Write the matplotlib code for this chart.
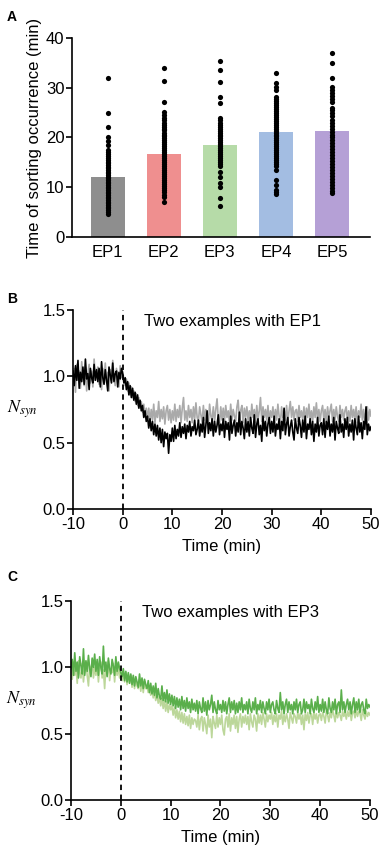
import numpy as np
import matplotlib
matplotlib.use("Agg")
import matplotlib.pyplot as plt

plt.rcParams['font.family'] = ['Liberation Sans', 'DejaVu Sans']
plt.rcParams['mathtext.fontset'] = 'stix'
plt.rcParams['axes.unicode_minus'] = False

# ---- panel A data ----
groups = ['EP1', 'EP2', 'EP3', 'EP4', 'EP5']
bar_means = [12.0, 16.6, 18.4, 21.2, 21.4]
bar_colors = ['#8e8e8e', '#ef8f8f', '#b6dba8', '#a3bde2', '#b5a0d6']

ep1_times = [32, 25, 22.2, 20, 19.3, 18.4, 17.5, 17, 16.6, 16.2, 15.8, 15.4, 15.1, 14.8,
             14.5, 14.1, 13.8, 13.5, 13.1, 12.8, 12.5, 12.1, 11.8, 11.5, 11.1, 10.8, 10.5,
             10.1, 9.8, 9.5, 9.1, 8.8, 8.5, 8.1, 7.8, 7.5, 7.1, 6.8, 6.5, 6.1, 5.8, 5.5,
             5.1, 4.6]
ep2_times = [34, 31.3, 27.1, 25.2, 24.5, 24, 23.5, 23, 22.5, 22.2, 21.8, 21.5, 21, 20.6,
             20.2, 19.8, 19.5, 19, 18.6, 18.2, 17.8, 17.5, 17, 16.6, 16.2, 15.8, 15.4,
             15, 14.6, 14.2, 13.8, 13.4, 13, 12.6, 12.2, 11.8, 11.4, 11, 10.6, 10.2, 9.8,
             9.4, 9, 8.5, 8, 7.1]
ep3_times = [35.3, 33.6, 31.1, 28.2, 26.9, 23.9, 23.5, 23, 22.6, 22.2, 21.8, 21.4, 21,
             20.6, 20.2, 19.8, 19.4, 19, 18.6, 18.2, 17.8, 17.4, 17, 16.6, 16.2, 15.8,
             15.4, 15, 14.6, 14.2, 13.1, 12.1, 10.8, 10.1, 7.8, 6.3]
ep4_times = [33, 30.9, 30.2, 29.6, 28.2, 27.8, 27.4, 27, 26.6, 26.2, 25.8, 25.4, 25, 24.6,
             24.2, 23.8, 23.4, 23, 22.6, 22.2, 21.8, 21.4, 21, 20.6, 20.2, 19.8, 19.4,
             19, 18.6, 18.2, 17.8, 17.4, 17, 16.6, 16.2, 15.8, 15.4, 15, 14.6, 14.2,
             13.5, 11.5, 10.5, 9.5, 9.1, 8.7]
ep5_times = [36.9, 34.9, 31.9, 30.2, 29.6, 29, 28.4, 27.8, 27.2, 26, 25.5, 25, 24.3, 23.6,
             23, 22.4, 21.8, 21.2, 20.6, 20, 19.4, 18.8, 18.2, 17.6, 17, 16.4, 15.8,
             15.2, 14.6, 14, 13.4, 12.8, 12.2, 11.6, 11, 10.5, 9.8, 9.3, 8.8]
group_times = [ep1_times, ep2_times, ep3_times, ep4_times, ep5_times]

# ---- panel B / C traces (values x100, 0.25 min step from -10 to 50) ----
time_min = np.arange(241) * 0.25 - 10

b_gray = [95, 106, 88, 109, 97, 104, 91, 111, 100, 93, 107, 89, 102, 109, 95, 104, 92, 113, 97, 103,
          107, 94, 101, 90, 106, 97, 110, 95, 103, 89, 105, 97, 112, 99, 93, 106, 100, 92, 108, 99,
          104, 97, 93, 98, 89, 95, 86, 92, 84, 89, 81, 87, 78, 84, 76, 81, 73, 79, 70, 76,
          68, 76, 66, 75, 67, 79, 65, 74, 69, 81, 66, 75, 68, 77, 64, 74, 78, 67, 75, 65,
          74, 67, 79, 66, 75, 69, 78, 65, 76, 84, 67, 74, 66, 78, 69, 75, 65, 77, 68, 80,
          69, 66, 77, 71, 65, 78, 67, 75, 69, 64, 79, 70, 67, 77, 66, 75, 83, 68, 65, 77,
          67, 76, 66, 78, 69, 74, 65, 79, 67, 75, 70, 66, 77, 82, 67, 74, 78, 65, 76, 69,
          77, 67, 74, 66, 79, 69, 75, 65, 78, 67, 74, 84, 66, 77, 69, 75, 67, 78, 65, 74,
          69, 77, 66, 75, 67, 79, 70, 65, 77, 69, 75, 67, 78, 66, 74, 81, 69, 77, 67, 74,
          75, 66, 78, 69, 74, 67, 77, 65, 76, 69, 79, 67, 74, 66, 77, 69, 80, 67, 75, 66,
          74, 78, 67, 75, 65, 77, 69, 74, 79, 66, 75, 67, 77, 70, 66, 78, 69, 75, 67, 74,
          77, 67, 74, 66, 78, 69, 75, 67, 77, 65, 74, 69, 79, 67, 75, 66, 74, 77, 67, 75,
          70]
b_black = [104, 93, 108, 97, 112, 91, 103, 96, 107, 94, 113, 98, 102, 90, 106, 99, 95, 109, 97, 105,
           96, 106, 92, 111, 99, 94, 105, 97, 89, 107, 101, 95, 110, 96, 102, 104, 92, 103, 98, 106,
           102, 95, 99, 90, 96, 86, 93, 84, 91, 82, 88, 79, 86, 76, 82, 74, 78, 69, 74, 66,
           70, 61, 68, 59, 66, 56, 64, 55, 63, 52, 61, 50, 60, 47, 58, 53, 57, 42, 56, 51,
           61, 51, 63, 53, 60, 55, 65, 54, 62, 57, 64, 53, 63, 58, 66, 55, 62, 59, 67, 56,
           60, 67, 55, 64, 58, 69, 54, 63, 74, 57, 65, 59, 68, 55, 66, 58, 63, 71, 56, 64,
           59, 68, 54, 66, 60, 65, 52, 70, 57, 63, 67, 55, 65, 58, 73, 56, 66, 61, 53, 68,
           58, 66, 55, 69, 61, 57, 71, 54, 64, 68, 56, 63, 51, 70, 59, 66, 55, 64, 69, 57,
           66, 58, 70, 55, 64, 60, 68, 53, 66, 59, 76, 56, 64, 69, 55, 62, 67, 58, 52, 68,
           61, 57, 69, 63, 54, 67, 58, 70, 53, 64, 60, 68, 56, 66, 51, 64, 58, 69, 55, 63,
           65, 56, 68, 54, 66, 60, 70, 55, 64, 58, 69, 52, 66, 61, 57, 71, 58, 64, 54, 68,
           60, 69, 55, 64, 58, 67, 52, 68, 61, 56, 70, 58, 65, 53, 66, 60, 77, 56, 64, 59,
           62]
c_light = [99, 91, 104, 94, 101, 88, 105, 96, 92, 103, 89, 99, 104, 94, 86, 101, 95, 106, 92, 100,
           94, 103, 89, 100, 104, 92, 98, 84, 101, 94, 105, 90, 99, 96, 103, 89, 101, 94, 100, 92,
           98, 90, 97, 89, 96, 87, 95, 88, 94, 85, 93, 84, 92, 86, 84, 91, 82, 90, 81, 89,
           84, 86, 81, 85, 79, 84, 77, 82, 75, 80, 73, 78, 71, 77, 69, 75, 67, 74, 66, 72,
           68, 71, 64, 70, 62, 68, 61, 67, 59, 66, 58, 65, 57, 63, 56, 64, 54, 62, 57, 61,
           60, 55, 64, 53, 61, 63, 52, 62, 57, 50, 64, 55, 61, 47, 63, 58, 54, 64, 55, 62,
           57, 64, 53, 49, 61, 63, 55, 65, 52, 62, 57, 64, 54, 63, 51, 61, 65, 55, 63, 58,
           64, 57, 63, 53, 65, 59, 55, 64, 61, 52, 65, 58, 64, 57, 66, 61, 55, 65, 59, 64,
           61, 66, 57, 64, 59, 65, 55, 64, 61, 67, 57, 64, 59, 65, 61, 54, 66, 62, 58, 65,
           63, 58, 66, 61, 65, 57, 64, 53, 65, 60, 66, 58, 64, 65, 57, 66, 61, 65, 58, 64,
           65, 60, 66, 63, 58, 67, 64, 59, 66, 62, 68, 64, 59, 67, 62, 66, 64, 60, 67, 63,
           66, 61, 67, 63, 68, 60, 66, 67, 62, 68, 63, 67, 65, 60, 68, 64, 61, 67, 63, 66,
           64]
c_dark = [99, 106, 94, 111, 97, 104, 92, 108, 101, 95, 114, 94, 105, 97, 109, 99, 93, 107, 100, 110,
          97, 106, 94, 108, 100, 95, 116, 97, 104, 93, 107, 99, 95, 106, 101, 94, 108, 97, 104, 99,
          96, 93, 99, 90, 97, 89, 96, 88, 95, 87, 94, 86, 93, 89, 85, 95, 86, 92, 84, 91,
          87, 84, 90, 81, 88, 80, 86, 79, 88, 77, 84, 78, 76, 86, 75, 81, 74, 83, 73, 80,
          72, 79, 71, 78, 69, 77, 70, 76, 68, 78, 69, 75, 67, 77, 69, 74, 66, 76, 68, 73,
          67, 75, 65, 74, 69, 66, 77, 67, 74, 64, 75, 68, 72, 79, 66, 74, 68, 65, 75, 68,
          72, 66, 75, 67, 74, 65, 72, 77, 66, 74, 68, 75, 65, 73, 66, 74, 68, 77, 66, 72,
          68, 74, 65, 76, 69, 66, 74, 68, 77, 65, 72, 68, 75, 66, 74, 69, 65, 74, 68, 76,
          66, 72, 74, 68, 65, 75, 69, 66, 81, 68, 74, 65, 72, 76, 66, 74, 68, 72, 65, 74,
          68, 76, 66, 72, 74, 65, 68, 76, 66, 74, 69, 72, 65, 76, 69, 66, 74, 68, 78, 66,
          72, 67, 76, 66, 74, 68, 65, 77, 69, 66, 74, 68, 76, 65, 72, 74, 66, 83, 68, 74,
          66, 72, 76, 68, 74, 65, 72, 77, 66, 74, 68, 76, 66, 72, 74, 68, 65, 76, 69, 72,
          70]

fig = plt.figure(figsize=(3.83, 8.5), dpi=100)


def style_axes(ax, fs):
    for s in ['top', 'right']:
        ax.spines[s].set_visible(False)
    for s in ['left', 'bottom']:
        ax.spines[s].set_linewidth(1.2)
    ax.tick_params(direction='out', length=4, width=1.2, labelsize=fs, pad=1.5)


# Panel A
axA = fig.add_axes([0.188, 0.7212, 0.778, 0.2341])
x = np.arange(len(groups))
axA.bar(x, bar_means, width=0.6, color=bar_colors, zorder=1)
for i, vals in enumerate(group_times):
    axA.scatter(np.full(len(vals), i), vals, s=14, color='black', zorder=3, linewidths=0)
axA.set_xlim(-0.64, 4.68)
axA.set_ylim(0, 40)
axA.set_yticks([0, 10, 20, 30, 40])
axA.set_xticks(x)
axA.set_xticklabels(groups)
style_axes(axA, 12)
axA.tick_params(axis='x', length=0, pad=6)
axA.set_ylabel('Time of sorting occurrence (min)', fontsize=12, labelpad=3)
fig.text(0.018, 0.988, 'A', fontsize=10, fontweight='bold', va='top')


def trace_panel(rect, series, colors, title):
    ax = fig.add_axes(rect)
    for vals, c in zip(series, colors):
        ax.plot(time_min, np.array(vals) / 100, color=c, lw=1.2)
    ax.axvline(0, color='black', ls=(0, (3, 2.5)), lw=1.3)
    ax.set_xlim(-10, 50)
    ax.set_ylim(0, 1.5)
    ax.set_xticks([-10, 0, 10, 20, 30, 40, 50])
    ax.set_yticks([0, 0.5, 1.0, 1.5])
    ax.set_yticklabels(['0.0', '0.5', '1.0', '1.5'])
    style_axes(ax, 12)
    ax.set_xlabel('Time (min)', fontsize=12, labelpad=5.5)
    ax.set_ylabel(r'$N_{syn}$', fontsize=13, rotation=0, labelpad=14, va='center')
    ax.text(4.2, 1.41, title, fontsize=12, ha='left', va='center')
    return ax


trace_panel([0.1906, 0.4012, 0.7781, 0.2341], [b_gray, b_black], ['#aaaaaa', 'black'],
            'Two examples with EP1')
fig.text(0.018, 0.657, 'B', fontsize=10, fontweight='bold', va='top')

trace_panel([0.1854, 0.0588, 0.7806, 0.2341], [c_light, c_dark], ['#bcd79a', '#5aaf4b'],
            'Two examples with EP3')
fig.text(0.018, 0.329, 'C', fontsize=10, fontweight='bold', va='top')

fig.savefig('out.png', dpi=100)
